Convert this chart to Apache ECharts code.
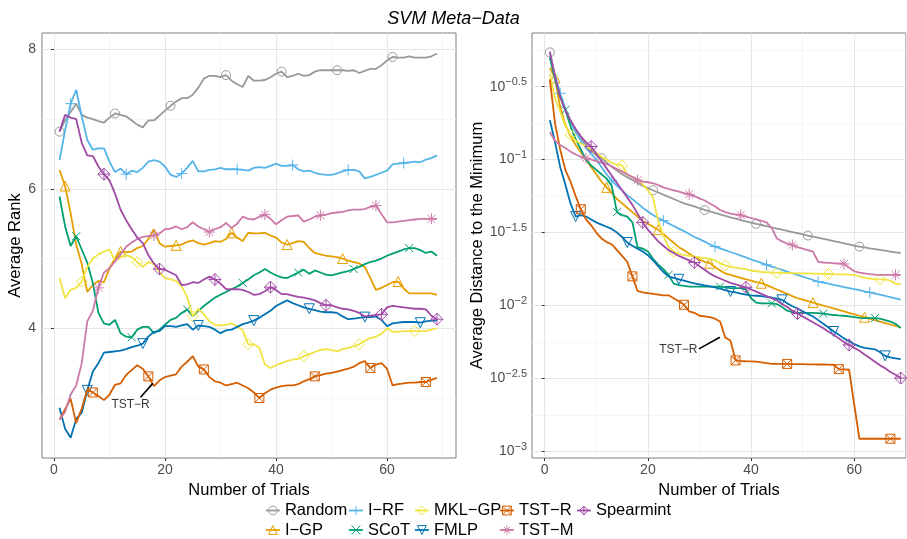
<!DOCTYPE html>
<html><head><meta charset="utf-8">
<script src="https://cdn.jsdelivr.net/npm/echarts@6/dist/echarts.min.js"></script>
<style>html,body{margin:0;padding:0;background:#fff}#c{width:907px;height:539px}</style>
</head><body><div id="c"></div>
<script>
// ---------- data ----------
const trials = [1,2,3,4,5,6,7,8,9,10,11,12,13,14,15,16,17,18,19,20,21,22,23,24,25,26,27,28,29,30,
  31,32,33,34,35,36,37,38,39,40,41,42,43,44,45,46,47,48,49,50,51,52,53,54,55,56,57,58,59,60,
  61,62,63,64,65,66,67,68,69];
const seriesNames = ['Random','I\u2212GP','I\u2212RF','SCoT','MKL\u2212GP','FMLP','TST\u2212R','TST\u2212M','Spearmint'];

// Average rank (left panel)
const rankRandom = [6.82,6.98,7.1,7.22,7.06,7.02,7.0,6.97,6.95,7.02,
  7.08,7.06,7.04,6.98,6.92,6.88,6.98,6.98,7.05,7.12,
  7.19,7.25,7.3,7.3,7.35,7.45,7.58,7.62,7.62,7.6,
  7.63,7.55,7.5,7.46,7.62,7.55,7.55,7.56,7.6,7.65,
  7.68,7.6,7.62,7.65,7.62,7.63,7.68,7.7,7.7,7.7,
  7.7,7.7,7.69,7.7,7.66,7.69,7.72,7.72,7.77,7.84,
  7.89,7.88,7.88,7.9,7.88,7.88,7.88,7.9,7.94];
const rankIGP = [6.27,6.04,5.65,5.2,4.92,4.52,4.62,4.68,4.66,4.86,
  5.0,5.1,5.09,5.1,5.15,5.18,5.28,5.42,5.22,5.17,
  5.18,5.19,5.2,5.24,5.26,5.22,5.2,5.22,5.25,5.24,
  5.28,5.37,5.3,5.25,5.37,5.36,5.36,5.37,5.33,5.3,
  5.23,5.2,5.22,5.25,5.24,5.15,5.08,5.06,5.04,5.03,
  5.02,5.0,4.97,4.95,4.93,4.88,4.72,4.55,4.58,4.62,
  4.66,4.67,4.57,4.5,4.5,4.5,4.5,4.5,4.48];
const rankIRF = [6.41,6.84,7.22,7.42,7.04,6.7,6.56,6.58,6.58,6.39,
  6.24,6.29,6.21,6.26,6.24,6.3,6.39,6.41,6.39,6.32,
  6.2,6.17,6.22,6.3,6.4,6.25,6.25,6.27,6.28,6.3,
  6.28,6.28,6.28,6.27,6.26,6.3,6.31,6.3,6.33,6.36,
  6.33,6.33,6.34,6.28,6.25,6.26,6.23,6.21,6.2,6.2,
  6.22,6.25,6.27,6.27,6.25,6.15,6.17,6.2,6.23,6.26,
  6.35,6.36,6.37,6.38,6.39,6.38,6.42,6.44,6.48];
const rankSCoT = [5.89,5.46,5.18,5.32,5.13,4.94,4.65,4.22,4.07,4.05,
  4.12,3.93,3.88,3.87,3.98,4.02,4.02,3.93,3.98,4.05,
  4.12,4.15,4.22,4.27,4.17,4.25,4.32,4.38,4.44,4.48,
  4.52,4.56,4.6,4.65,4.7,4.76,4.8,4.85,4.8,4.76,
  4.73,4.72,4.76,4.8,4.84,4.78,4.83,4.8,4.77,4.76,
  4.78,4.8,4.82,4.85,4.88,4.92,4.95,4.97,5.0,5.04,
  5.07,5.1,5.13,5.15,5.15,5.12,5.08,5.1,5.04];
const rankMKLGP = [4.72,4.43,4.55,4.58,4.67,4.88,5.0,5.06,5.1,5.13,
  4.97,5.02,5.05,5.02,4.95,4.88,4.95,4.92,4.8,4.72,
  4.7,4.68,4.6,4.45,4.17,4.28,4.2,4.1,4.05,4.04,
  4.05,4.07,4.03,3.97,3.77,3.77,3.72,3.48,3.43,3.47,
  3.5,3.53,3.55,3.56,3.6,3.63,3.66,3.69,3.7,3.69,
  3.67,3.7,3.72,3.74,3.77,3.82,3.86,3.88,3.92,4.0,
  3.95,3.95,3.96,3.96,3.96,3.96,3.96,3.98,4.0];
const rankFMLP = [2.86,2.56,2.43,2.7,2.79,3.11,3.38,3.5,3.65,3.66,
  3.67,3.68,3.7,3.73,3.75,3.78,3.88,3.95,3.96,4.03,
  4.03,4.02,4.04,4.06,3.98,4.04,4.03,4.02,3.98,3.93,
  3.97,3.98,4.02,4.06,4.08,4.11,4.15,4.2,4.25,4.32,
  4.36,4.4,4.36,4.33,4.3,4.28,4.26,4.24,4.23,4.23,
  4.22,4.17,4.13,4.14,4.15,4.16,4.16,4.17,4.12,4.03,
  4.07,4.08,4.09,4.09,4.09,4.08,4.1,4.11,4.11];
const rankTSTR = [2.69,2.84,2.99,2.64,2.85,3.12,3.08,3.03,2.97,3.05,
  3.19,3.21,3.33,3.4,3.47,3.42,3.31,3.17,3.25,3.3,
  3.32,3.34,3.45,3.52,3.6,3.45,3.41,3.3,3.24,3.22,
  3.18,3.2,3.22,3.18,3.14,3.08,3.0,3.07,3.12,3.15,
  3.17,3.18,3.18,3.2,3.24,3.27,3.31,3.33,3.35,3.36,
  3.38,3.4,3.42,3.45,3.5,3.53,3.43,3.48,3.5,3.42,
  3.18,3.2,3.21,3.22,3.22,3.23,3.23,3.26,3.29];
const rankTSTM = [2.69,2.8,3.05,3.18,3.5,4.1,4.25,4.58,4.8,4.86,
  4.96,5.06,5.17,5.23,5.28,5.31,5.32,5.33,5.36,5.42,
  5.43,5.46,5.42,5.45,5.52,5.46,5.42,5.38,5.42,5.45,
  5.51,5.44,5.5,5.6,5.57,5.56,5.6,5.63,5.57,5.49,
  5.55,5.6,5.61,5.62,5.53,5.56,5.6,5.62,5.63,5.65,
  5.66,5.67,5.69,5.7,5.7,5.71,5.74,5.76,5.64,5.52,
  5.52,5.53,5.54,5.55,5.56,5.57,5.57,5.57,5.57];
const rankSpearmint = [6.82,7.06,7.02,7.0,6.66,6.48,6.47,6.32,6.21,6.12,
  5.93,5.7,5.55,5.42,5.3,5.22,5.05,4.93,4.85,4.84,
  4.8,4.76,4.62,4.63,4.66,4.65,4.7,4.74,4.7,4.64,
  4.56,4.56,4.56,4.55,4.52,4.48,4.49,4.53,4.59,4.55,
  4.49,4.49,4.47,4.45,4.44,4.42,4.4,4.36,4.33,4.33,
  4.3,4.28,4.27,4.25,4.22,4.17,4.18,4.19,4.2,4.3,
  4.32,4.31,4.3,4.29,4.28,4.28,4.27,4.18,4.13];

// Average distance to the minimum (right panel), stored as log10 exponents
const logDistRandom = [-0.265,-0.44,-0.56,-0.66,-0.73,-0.8,-0.85,-0.9,-0.94,-0.97,
  -0.99,-1.02,-1.05,-1.075,-1.1,-1.12,-1.14,-1.16,-1.18,-1.195,
  -1.21,-1.225,-1.24,-1.255,-1.27,-1.285,-1.3,-1.31,-1.32,-1.333,
  -1.345,-1.355,-1.365,-1.375,-1.385,-1.395,-1.405,-1.415,-1.423,-1.432,
  -1.44,-1.448,-1.456,-1.464,-1.472,-1.48,-1.488,-1.496,-1.504,-1.512,
  -1.52,-1.528,-1.535,-1.543,-1.55,-1.558,-1.566,-1.574,-1.581,-1.589,
  -1.596,-1.602,-1.608,-1.613,-1.619,-1.624,-1.63,-1.635,-1.64];
const logDistIGP = [-0.37,-0.44,-0.64,-0.76,-0.84,-0.9,-0.95,-1.0,-1.05,-1.1,
  -1.15,-1.19,-1.23,-1.27,-1.3,-1.33,-1.36,-1.39,-1.42,-1.44,
  -1.46,-1.48,-1.51,-1.54,-1.57,-1.6,-1.62,-1.645,-1.665,-1.685,
  -1.7,-1.71,-1.735,-1.76,-1.78,-1.79,-1.8,-1.81,-1.82,-1.83,
  -1.84,-1.847,-1.86,-1.875,-1.89,-1.905,-1.92,-1.935,-1.95,-1.96,
  -1.97,-1.98,-1.99,-2.0,-2.01,-2.02,-2.03,-2.04,-2.05,-2.06,
  -2.07,-2.08,-2.09,-2.1,-2.11,-2.12,-2.13,-2.14,-2.148];
const logDistIRF = [-0.3,-0.42,-0.545,-0.65,-0.74,-0.81,-0.87,-0.92,-0.96,-1.0,
  -1.05,-1.1,-1.144,-1.18,-1.21,-1.245,-1.27,-1.3,-1.33,-1.355,
  -1.38,-1.4,-1.418,-1.437,-1.455,-1.473,-1.49,-1.51,-1.53,-1.545,
  -1.562,-1.58,-1.596,-1.608,-1.62,-1.633,-1.645,-1.658,-1.67,-1.683,
  -1.695,-1.708,-1.721,-1.733,-1.744,-1.756,-1.767,-1.779,-1.79,-1.802,
  -1.813,-1.825,-1.836,-1.843,-1.85,-1.858,-1.865,-1.873,-1.88,-1.888,
  -1.895,-1.903,-1.91,-1.918,-1.926,-1.934,-1.943,-1.951,-1.96];
const logDistSCoT = [-0.3,-0.45,-0.57,-0.66,-0.77,-0.86,-0.93,-1.0,-1.04,-1.07,
  -1.1,-1.13,-1.18,-1.36,-1.38,-1.39,-1.43,-1.6,-1.61,-1.63,
  -1.68,-1.72,-1.75,-1.79,-1.85,-1.86,-1.865,-1.87,-1.87,-1.87,
  -1.87,-1.87,-1.87,-1.87,-1.875,-1.88,-1.88,-1.88,-1.89,-1.95,
  -1.98,-1.985,-1.985,-1.985,-1.99,-2.01,-2.035,-2.045,-2.05,-2.05,
  -2.05,-2.05,-2.052,-2.055,-2.06,-2.065,-2.068,-2.07,-2.075,-2.08,
  -2.085,-2.086,-2.086,-2.086,-2.09,-2.1,-2.11,-2.125,-2.155];
const logDistMKLGP = [-0.41,-0.58,-0.67,-0.77,-0.83,-0.87,-0.89,-0.91,-0.93,-0.955,
  -0.98,-1.0,-1.02,-1.035,-1.04,-1.1,-1.12,-1.135,-1.17,-1.21,
  -1.26,-1.42,-1.52,-1.6,-1.63,-1.645,-1.655,-1.66,-1.665,-1.67,
  -1.675,-1.68,-1.69,-1.71,-1.725,-1.735,-1.74,-1.745,-1.75,-1.76,
  -1.765,-1.77,-1.772,-1.774,-1.775,-1.776,-1.777,-1.778,-1.779,-1.78,
  -1.78,-1.781,-1.782,-1.783,-1.784,-1.785,-1.786,-1.787,-1.788,-1.79,
  -1.8,-1.81,-1.815,-1.82,-1.82,-1.82,-1.83,-1.85,-1.855];
const logDistFMLP = [-0.73,-0.88,-1.05,-1.17,-1.3,-1.39,-1.38,-1.39,-1.41,-1.43,
  -1.445,-1.46,-1.475,-1.5,-1.53,-1.568,-1.59,-1.61,-1.63,-1.655,
  -1.69,-1.73,-1.77,-1.8,-1.81,-1.82,-1.83,-1.84,-1.848,-1.855,
  -1.862,-1.868,-1.875,-1.885,-1.895,-1.904,-1.91,-1.918,-1.925,-1.93,
  -1.933,-1.936,-1.94,-1.945,-1.952,-1.961,-1.985,-2.005,-2.02,-2.04,
  -2.058,-2.075,-2.1,-2.125,-2.15,-2.178,-2.2,-2.225,-2.245,-2.265,
  -2.28,-2.29,-2.295,-2.3,-2.32,-2.345,-2.355,-2.362,-2.367];
const logDistTSTR = [-0.45,-0.75,-0.93,-1.07,-1.15,-1.25,-1.34,-1.41,-1.45,-1.5,
  -1.54,-1.565,-1.58,-1.62,-1.66,-1.7,-1.8,-1.9,-1.91,-1.915,
  -1.92,-1.925,-1.93,-1.93,-1.95,-1.97,-1.995,-2.04,-2.05,-2.07,
  -2.075,-2.08,-2.09,-2.11,-2.22,-2.24,-2.376,-2.38,-2.382,-2.383,
  -2.385,-2.39,-2.395,-2.4,-2.4,-2.4,-2.4,-2.401,-2.402,-2.402,
  -2.403,-2.403,-2.404,-2.404,-2.405,-2.406,-2.436,-2.438,-2.44,-2.68,
  -2.913,-2.913,-2.913,-2.913,-2.913,-2.913,-2.913,-2.913,-2.913];
const logDistTSTM = [-0.81,-0.87,-0.9,-0.92,-0.945,-0.965,-0.98,-0.99,-1.0,-1.01,
  -1.02,-1.03,-1.045,-1.065,-1.082,-1.1,-1.12,-1.14,-1.15,-1.155,
  -1.162,-1.175,-1.19,-1.2,-1.21,-1.22,-1.23,-1.237,-1.25,-1.265,
  -1.28,-1.3,-1.32,-1.345,-1.36,-1.37,-1.375,-1.38,-1.39,-1.4,
  -1.41,-1.42,-1.43,-1.47,-1.54,-1.56,-1.575,-1.585,-1.6,-1.61,
  -1.62,-1.63,-1.7,-1.705,-1.707,-1.71,-1.712,-1.715,-1.74,-1.765,
  -1.775,-1.78,-1.785,-1.788,-1.79,-1.79,-1.79,-1.79,-1.79];
const logDistSpearmint = [-0.26,-0.43,-0.57,-0.66,-0.73,-0.79,-0.84,-0.88,-0.91,-0.96,
  -1.01,-1.06,-1.11,-1.16,-1.21,-1.26,-1.31,-1.37,-1.43,-1.48,
  -1.52,-1.56,-1.59,-1.62,-1.64,-1.66,-1.675,-1.69,-1.705,-1.73,
  -1.755,-1.78,-1.8,-1.815,-1.83,-1.845,-1.855,-1.865,-1.875,-1.89,
  -1.905,-1.92,-1.935,-1.95,-1.965,-1.99,-2.01,-2.035,-2.055,-2.075,
  -2.095,-2.115,-2.135,-2.155,-2.18,-2.2,-2.225,-2.25,-2.27,-2.29,
  -2.31,-2.335,-2.36,-2.385,-2.41,-2.43,-2.455,-2.475,-2.497];

// ticks
const xTicks = [0, 20, 40, 60];
const xMinorTicks = [10, 30, 50, 70];
const rankTicks = [4, 6, 8];
const rankMinorTicks = [3, 5, 7];
const distTickExps = [-3, -2.5, -2, -1.5, -1, -0.5];
const distMinorExps = [-2.75, -2.25, -1.75, -1.25, -0.75, -0.25];

// annotation "TST−R" (data coordinates)
const annotLeftText = [13.8, 2.91];
const annotLeftLine = [[15.6, 3.01], [17.8, 3.21]];
const annotRightText = [25.9, -2.30];
const annotRightLine = [[29.9, -2.297], [33.95, -2.217]];

// ---------- styles ----------
const rankData = [rankRandom, rankIGP, rankIRF, rankSCoT, rankMKLGP, rankFMLP, rankTSTR, rankTSTM, rankSpearmint];
const distData = [logDistRandom, logDistIGP, logDistIRF, logDistSCoT, logDistMKLGP, logDistFMLP, logDistTSTR, logDistTSTM, logDistSpearmint];
const colors = ['#999999','#E69F00','#56B4E9','#009E73','#F0E442','#0072B2','#D55E00','#CC79A7','#A04AA6'];
const symbols = [
  'circle',
  'path://M5,0 L10,8.66 L0,8.66 Z',
  'path://M5,0 L5,10 M0,5 L10,5',
  'path://M0,0 L10,10 M10,0 L0,10',
  'path://M5,0 L10,5 L5,10 L0,5 Z',
  'path://M0,0 L10,0 L5,8.66 Z',
  'path://M0,0 L10,0 L10,10 L0,10 Z M0,0 L10,10 M10,0 L0,10',
  'path://M5,0 L5,10 M0,5 L10,5 M1.5,1.5 L8.5,8.5 M8.5,1.5 L1.5,8.5',
  'path://M5,0 L10,5 L5,10 L0,5 Z M5,0 L5,10 M0,5 L10,5'
];
const symbolSizes = [9, 10, 11, 8, 11, 10, 9, 11, 12];
const markerStart = [1, 2, 3, 4, 5, 6, 7, 8, 9];
const FONT = 'Liberation Sans, Arial, sans-serif';

function mkSeries(i, values, xIdx, yIdx, isLog) {
  const col = colors[i];
  return {
    name: seriesNames[i], type: 'line', xAxisIndex: xIdx, yAxisIndex: yIdx,
    data: trials.map((t, k) => [t, isLog ? Math.pow(10, values[k]) : values[k]]),
    symbol: symbols[i],
    symbolSize: (v, p) => {
      const t = p.dataIndex + 1;
      return (t >= markerStart[i] && (t - markerStart[i]) % 10 === 0) ? symbolSizes[i] : 0;
    },
    showSymbol: true, showAllSymbol: true,
    itemStyle: { color: 'rgba(0,0,0,0)', borderColor: col, borderWidth: 1 },
    lineStyle: { color: col, width: 1.8 },
    emphasis: { disabled: true }, silent: true, z: 2 + i
  };
}

function xAxes(gridIndex, min, max) {
  return [{
    type: 'value', gridIndex, min, max,
    axisLine: { show: false },
    axisTick: { show: true, length: 3, lineStyle: { color: '#333' }, customValues: xTicks },
    axisLabel: { customValues: xTicks, fontSize: 14, color: '#4d4d4d', margin: 5, fontFamily: FONT },
    splitLine: { show: true, lineStyle: { color: '#e6e6e6', width: 1 } },
    name: 'Number of Trials', nameLocation: 'middle', nameGap: 17,
    nameTextStyle: { fontSize: 16.5, color: '#000', fontFamily: FONT }
  }, {
    type: 'value', gridIndex, min, max, position: 'bottom',
    axisLine: { show: false },
    axisTick: { show: false, customValues: xMinorTicks },
    axisLabel: { show: false, customValues: xMinorTicks },
    splitLine: { show: true, lineStyle: { color: '#f1f1f1', width: 0.7 } }
  }];
}

const distTickVals = distTickExps.map(e => Math.pow(10, e));
const distMinorVals = distMinorExps.map(e => Math.pow(10, e));

const series = [];
for (let i = 0; i < 9; i++) series.push(mkSeries(i, rankData[i], 0, 0, false));
for (let i = 0; i < 9; i++) series.push(mkSeries(i, distData[i], 2, 2, true));

// annotations
series.push({ name: 'annotL', type: 'line', xAxisIndex: 0, yAxisIndex: 0, data: annotLeftLine,
  symbol: 'none', lineStyle: { color: '#000', width: 1.6 }, silent: true, z: 30 });
series.push({ name: 'annotLt', type: 'scatter', xAxisIndex: 0, yAxisIndex: 0, data: [annotLeftText],
  symbolSize: 1, itemStyle: { color: 'rgba(0,0,0,0)' }, silent: true, z: 30,
  label: { show: true, position: 'inside', formatter: 'TST\u2212R', fontSize: 12, color: '#000', fontFamily: FONT } });
series.push({ name: 'annotR', type: 'line', xAxisIndex: 2, yAxisIndex: 2,
  data: annotRightLine.map(p => [p[0], Math.pow(10, p[1])]),
  symbol: 'none', lineStyle: { color: '#000', width: 1.6 }, silent: true, z: 30 });
series.push({ name: 'annotRt', type: 'scatter', xAxisIndex: 2, yAxisIndex: 2,
  data: [[annotRightText[0], Math.pow(10, annotRightText[1])]],
  symbolSize: 1, itemStyle: { color: 'rgba(0,0,0,0)' }, silent: true, z: 30,
  label: { show: true, position: 'inside', formatter: 'TST\u2212R', fontSize: 12, color: '#000', fontFamily: FONT } });

const legendCols = [['Random','I\u2212GP'],['I\u2212RF','SCoT'],['MKL\u2212GP','FMLP'],['TST\u2212R','TST\u2212M'],['Spearmint']];
const legendLefts = [265, 348, 414, 499, 576];
const legends = legendCols.map((col, j) => ({
  orient: 'vertical', left: legendLefts[j], top: 502, padding: 0,
  itemWidth: 14, itemHeight: 11, itemGap: 2.5, selectedMode: false,
  textStyle: { fontSize: 16.5, color: '#000', fontFamily: FONT },
  data: col.map(n => {
    const c = colors[seriesNames.indexOf(n)];
    return { name: n, itemStyle: { color: 'rgba(0,0,0,0)', borderColor: c, borderWidth: 1 },
      lineStyle: { color: c, width: 1.8 } };
  })
}));

function supLabel(v) {
  const e = Math.round(Math.log10(v) * 2) / 2;
  return '{b|10}{s|' + String(e).replace('-', '\u2212') + '}';
}

const option = {
  animation: false,
  textStyle: { fontFamily: FONT },
  title: { text: 'SVM Meta\u2212Data', left: 'center', top: 5,
    textStyle: { fontSize: 18, fontStyle: 'italic', fontWeight: 'normal', color: '#000', fontFamily: FONT } },
  legend: legends,
  grid: [
    { left: 42, top: 33, width: 414, height: 425, show: true, borderColor: '#7f7f7f', borderWidth: 1, backgroundColor: 'rgba(0,0,0,0)' },
    { left: 532, top: 33, width: 374, height: 425, show: true, borderColor: '#7f7f7f', borderWidth: 1, backgroundColor: 'rgba(0,0,0,0)' }
  ],
  xAxis: [...xAxes(0, -2.16, 72.43), ...xAxes(1, -2.46, 70.03)],
  yAxis: [
    { type: 'value', gridIndex: 0, min: 2.14, max: 8.234,
      axisLine: { show: false },
      axisTick: { show: true, length: 3, lineStyle: { color: '#333' }, customValues: rankTicks },
      axisLabel: { customValues: rankTicks, fontSize: 14, color: '#4d4d4d', margin: 6, fontFamily: FONT },
      splitLine: { show: true, lineStyle: { color: '#e6e6e6', width: 1 } },
      name: 'Average Rank', nameLocation: 'middle', nameGap: 11,
      nameTextStyle: { fontSize: 16.5, color: '#000', fontFamily: FONT } },
    { type: 'value', gridIndex: 0, min: 2.14, max: 8.234,
      axisLine: { show: false },
      axisTick: { show: false, customValues: rankMinorTicks },
      axisLabel: { show: false, customValues: rankMinorTicks },
      splitLine: { show: true, lineStyle: { color: '#f1f1f1', width: 0.7 } } },
    { type: 'log', logBase: 10, gridIndex: 1, min: Math.pow(10, -3.045), max: Math.pow(10, -0.132),
      axisLine: { show: false },
      axisTick: { show: true, length: 3, lineStyle: { color: '#333' }, customValues: distTickVals },
      axisLabel: { customValues: distTickVals, margin: 5, formatter: supLabel, color: '#4d4d4d', fontFamily: FONT,
        rich: {
          b: { fontSize: 14, lineHeight: 14, verticalAlign: 'bottom', color: '#4d4d4d', fontFamily: FONT },
          s: { fontSize: 11, lineHeight: 11, padding: [0, 0, 9, 0], color: '#4d4d4d', fontFamily: FONT }
        } },
      splitLine: { show: true, lineStyle: { color: '#e6e6e6', width: 1 } },
      name: 'Average Distance to the Minimum', nameLocation: 'middle', nameGap: 34,
      nameTextStyle: { fontSize: 16.5, color: '#000', fontFamily: FONT } },
    { type: 'log', logBase: 10, gridIndex: 1, min: Math.pow(10, -3.045), max: Math.pow(10, -0.132),
      axisLine: { show: false },
      axisTick: { show: false, customValues: distMinorVals },
      axisLabel: { show: false, customValues: distMinorVals },
      splitLine: { show: true, lineStyle: { color: '#f1f1f1', width: 0.7 } } }
  ],
  series
};

const chart = echarts.init(document.getElementById('c'), null, { renderer: 'canvas' });
chart.setOption(option);
</script>
</body></html>
